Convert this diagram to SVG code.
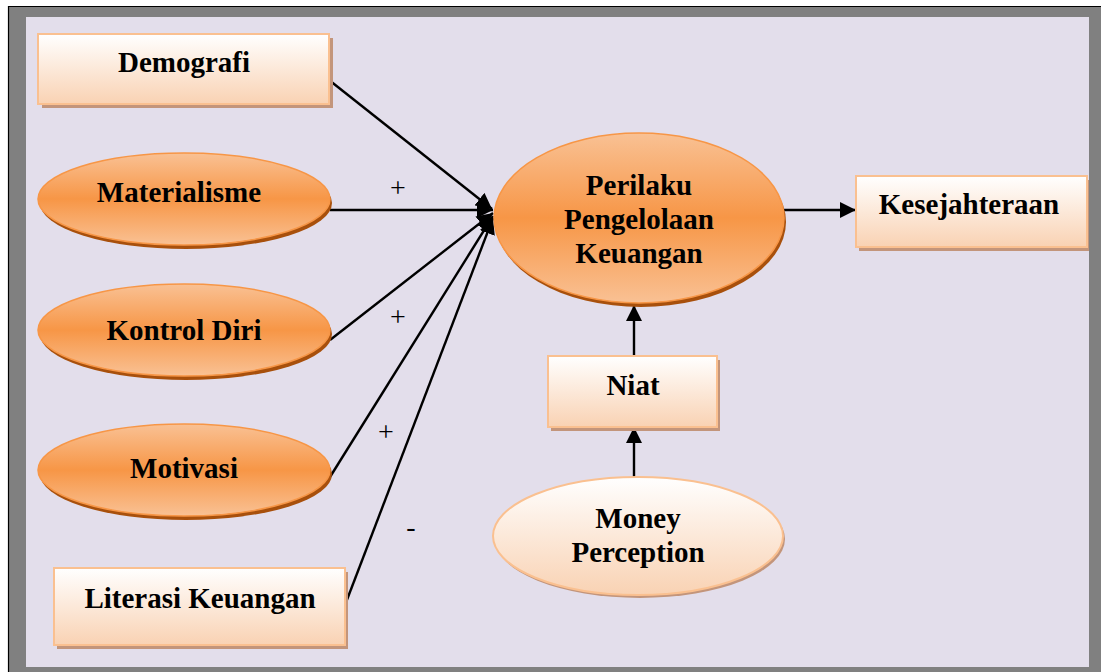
<svg xmlns="http://www.w3.org/2000/svg" width="1101" height="672" viewBox="0 0 1101 672">
<defs>
<linearGradient id="gLight" x1="0" y1="0" x2="0" y2="1">
<stop offset="0" stop-color="#FFFFFF"/>
<stop offset="1" stop-color="#F9D2B3"/>
</linearGradient>
<linearGradient id="gOrange" x1="0" y1="0" x2="0" y2="1">
<stop offset="0" stop-color="#F9C194"/>
<stop offset="0.5" stop-color="#F79646"/>
<stop offset="1" stop-color="#F9C194"/>
</linearGradient>
<marker id="arr" viewBox="0 0 10 10" refX="10" refY="5" markerWidth="16" markerHeight="16" markerUnits="userSpaceOnUse" orient="auto">
<path d="M0,0 L10,5 L0,10 z" fill="#000"/>
</marker>
</defs>
<style>
.lbl{font-family:"Liberation Serif","Times New Roman",serif;font-weight:bold;font-size:29px;fill:#000;text-anchor:middle;}
.sign{font-family:"Liberation Serif","Times New Roman",serif;font-size:28px;fill:#000;text-anchor:middle;}
.box{fill:url(#gLight);stroke:#FAC090;stroke-width:2;}
.boxsh{fill:#C3957B;}
.orn{fill:url(#gOrange);stroke:#F79646;stroke-width:1.5;}
.ornsh{fill:#A8500C;}
.lt{fill:url(#gLight);stroke:#FAC090;stroke-width:2;}
.conn{stroke:#000;stroke-width:2.4;fill:none;marker-end:url(#arr);}
</style>
<rect x="0" y="0" width="1101" height="672" fill="#FFFFFF"/>
<rect x="8" y="6" width="1093" height="666" fill="#808080"/>
<line x1="8" y1="6.5" x2="1101" y2="6.5" stroke="#000" stroke-width="1.2"/>
<line x1="8.5" y1="6" x2="8.5" y2="672" stroke="#000" stroke-width="1.2"/>
<rect x="26" y="17" width="1063" height="650" fill="#E3DEEB"/>

<g id="connectors">
<line class="conn" x1="329" y1="80" x2="492" y2="209"/>
<line class="conn" x1="330" y1="210" x2="493" y2="210"/>
<line class="conn" x1="330" y1="340" x2="493" y2="213"/>
<line class="conn" x1="330" y1="477" x2="493" y2="216"/>
<line class="conn" x1="345" y1="605" x2="493" y2="218"/>
<line class="conn" x1="783" y1="210" x2="856" y2="210"/>
<line class="conn" x1="634" y1="356" x2="634" y2="305"/>
<line class="conn" x1="634" y1="477" x2="634" y2="427"/>
<text class="sign" x="398" y="197">+</text>
<text class="sign" x="398" y="326">+</text>
<text class="sign" x="386" y="441">+</text>
<text class="sign" x="411" y="536">-</text>
</g>

<g id="demografi">
<rect class="boxsh" x="42" y="38" width="291" height="70"/>
<rect class="box" x="38" y="34" width="291" height="70"/>
<text class="lbl" x="184" y="72">Demografi</text>
</g>

<g id="materialisme">
<ellipse class="ornsh" cx="186" cy="203" rx="146" ry="46"/>
<ellipse class="orn" cx="184" cy="199" rx="146" ry="46"/>
<text class="lbl" x="179" y="202">Materialisme</text>
</g>

<g id="kontrol-diri">
<ellipse class="ornsh" cx="186" cy="334" rx="146" ry="46"/>
<ellipse class="orn" cx="184" cy="330" rx="146" ry="46"/>
<text class="lbl" x="184" y="340">Kontrol Diri</text>
</g>

<g id="motivasi">
<ellipse class="ornsh" cx="186" cy="474" rx="146" ry="46"/>
<ellipse class="orn" cx="184" cy="470" rx="146" ry="46"/>
<text class="lbl" x="184" y="478">Motivasi</text>
</g>

<g id="literasi-keuangan">
<rect class="boxsh" x="57" y="572" width="291" height="77"/>
<rect class="box" x="54" y="568" width="291" height="77"/>
<text class="lbl" x="200" y="608">Literasi Keuangan</text>
</g>

<g id="perilaku">
<ellipse class="ornsh" cx="641" cy="222" rx="145" ry="85"/>
<ellipse class="orn" cx="639" cy="218" rx="145" ry="85"/>
<text class="lbl" x="639" y="195">Perilaku</text>
<text class="lbl" x="639" y="229">Pengelolaan</text>
<text class="lbl" x="639" y="263">Keuangan</text>
</g>

<g id="kesejahteraan">
<rect class="boxsh" x="859" y="180" width="230" height="71"/>
<rect class="box" x="856" y="176" width="231" height="71"/>
<text class="lbl" x="969" y="214">Kesejahteraan</text>
</g>

<g id="niat">
<rect class="boxsh" x="551" y="360" width="169" height="71"/>
<rect class="box" x="548" y="356" width="169" height="71"/>
<text class="lbl" x="633" y="395">Niat</text>
</g>

<g id="money-perception">
<ellipse class="boxsh" cx="640" cy="539" rx="145" ry="59"/>
<ellipse class="lt" cx="638" cy="536" rx="145" ry="59"/>
<text class="lbl" x="638" y="528">Money</text>
<text class="lbl" x="638" y="562">Perception</text>
</g>
</svg>
